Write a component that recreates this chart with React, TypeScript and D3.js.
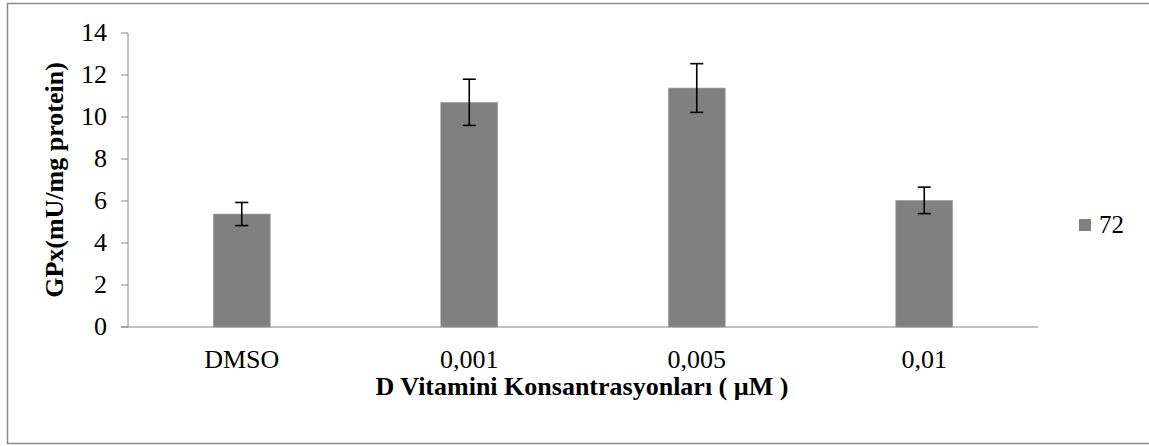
import React from "react";
import * as d3 from "d3";

const categories = ["DMSO", "0,001", "0,005", "0,01"];
const values = [5.38, 10.7, 11.38, 6.03];
const errors = [0.55, 1.1, 1.16, 0.63];
const yTicks = [0, 2, 4, 6, 8, 10, 12, 14];
const seriesName = "72";
const yTitle = "GPx(mU/mg protein)";
const xTitle = "D Vitamini Konsantrasyonları ( µM )";

const W = 1149;
const H = 446;
const FONT = "'Liberation Serif', 'Times New Roman', serif";
const FS = 26;

export default function App() {
  const plotLeft = 128;
  const plotRight = 1038;
  const plotTop = 33;
  const plotBottom = 327;

  const xc = d3.scaleBand<string>().domain(categories).range([plotLeft, plotRight]);
  const y = d3.scaleLinear().domain([0, 14]).range([plotBottom, plotTop]);

  return (
    <svg width={W} height={H} style={{ position: "absolute", left: 0, top: 0, background: "#fff" }}>
      <rect x={7.5} y={3.5} width={1150} height={440} fill="#fff" stroke="#8a8a8a" strokeWidth={1.5} />
      {/* bars */}
      {categories.map((c, i) => {
        const cx = (xc(c) as number) + xc.bandwidth() / 2;
        const bw = 57;
        return (
          <g key={c}>
            <rect x={cx - bw / 2} y={y(values[i])} width={bw} height={plotBottom - y(values[i])} fill="#808080" stroke="#a6a6a6" strokeWidth={0.6} />
          </g>
        );
      })}
      {/* y axis */}
      <line x1={plotLeft} x2={plotLeft} y1={plotTop} y2={plotBottom} stroke="#868686" strokeWidth={1} />
      {yTicks.map((t) => (
        <g key={t}>
          <line x1={plotLeft - 7} x2={plotLeft} y1={y(t)} y2={y(t)} stroke="#868686" strokeWidth={1} />
          <text x={107} y={y(t) + 7.8} textAnchor="end" fontFamily={FONT} fontSize={FS} fill="#000">
            {t}
          </text>
        </g>
      ))}
      {/* x axis */}
      <line x1={plotLeft - 7} x2={plotRight} y1={plotBottom} y2={plotBottom} stroke="#868686" strokeWidth={1.2} />
      {categories.map((c) => {
        const cx = (xc(c) as number) + xc.bandwidth() / 2;
        return (
          <text key={c} x={cx} y={368} textAnchor="middle" fontFamily={FONT} fontSize={FS} fill="#000">
            {c}
          </text>
        );
      })}
      {/* error bars */}
      {categories.map((c, i) => {
        const cx = (xc(c) as number) + xc.bandwidth() / 2;
        const top = y(values[i] + errors[i]);
        const bot = y(values[i] - errors[i]);
        return (
          <g key={"e" + c} stroke="#000" strokeWidth={1.6}>
            <line x1={cx} x2={cx} y1={top} y2={bot} />
            <line x1={cx - 6.5} x2={cx + 6.5} y1={top} y2={top} />
            <line x1={cx - 6.5} x2={cx + 6.5} y1={bot} y2={bot} />
          </g>
        );
      })}
      {/* titles */}
      <text x={582} y={395} textAnchor="middle" fontFamily={FONT} fontSize={FS} fontWeight="bold" fill="#000">
        {xTitle}
      </text>
      <text transform={`translate(63, ${(plotTop + plotBottom) / 2}) rotate(-90)`} textAnchor="middle" fontFamily={FONT} fontSize={FS} fontWeight="bold" fill="#000">
        {yTitle}
      </text>
      {/* legend */}
      <rect x={1079} y={219} width={12} height={12} fill="#808080" />
      <text x={1099} y={233} fontFamily={FONT} fontSize={25} fill="#000">
        {seriesName}
      </text>
    </svg>
  );
}
